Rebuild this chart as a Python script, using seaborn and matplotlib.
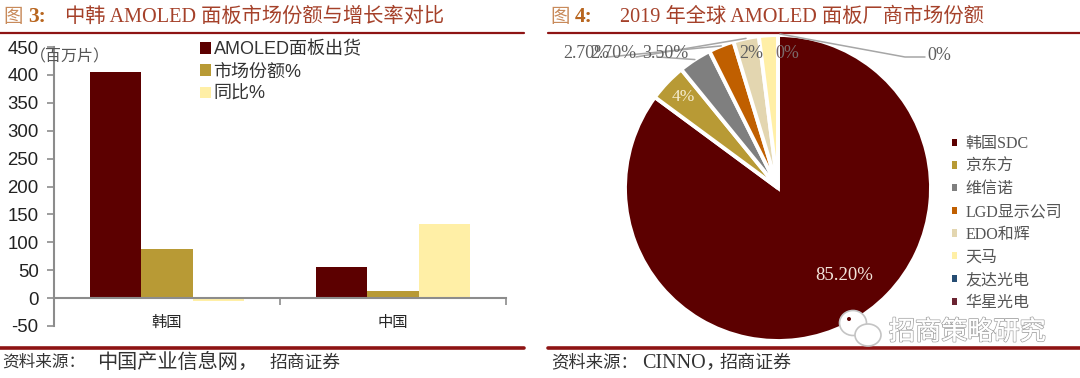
import matplotlib
matplotlib.use("Agg")
import matplotlib.pyplot as plt
import matplotlib.patheffects as pe
from matplotlib.lines import Line2D
from matplotlib.patches import Ellipse, Patch
import numpy as np
import pandas as pd
import seaborn as sns

# ---------- data ----------
regions = ["韩国", "中国"]
series_names = ["AMOLED面板出货", "市场份额%", "同比%"]
shipments = [405, 55]
market_share = [88, 13]
yoy = [-5, 133]
y_ticks = [-50, 0, 50, 100, 150, 200, 250, 300, 350, 400, 450]

makers = ["韩国SDC", "京东方", "维信诺", "LGD显示公司", "EDO和辉", "天马", "友达光电", "华星光电"]
maker_shares = [85.2, 4, 3.5, 2.7, 2.7, 2, 0, 0]
maker_labels = ["85.20%", "4%", "3.50%", "2.70%", "2.70%", "2%", "0%", "0%"]

# ---------- style ----------
W, H = 1080, 378
sns.set_theme(style="white")
SANS = ["Liberation Sans", "Noto Sans CJK SC"]
SERIF = ["Liberation Serif", "Noto Sans CJK SC"]
plt.rcParams["font.family"] = SANS
plt.rcParams["axes.unicode_minus"] = False

bar_colors = ["#5C0000", "#B89A35", "#FFEFA6"]
pie_colors = ["#5C0000", "#B89A35", "#7F7F7F", "#C05F00", "#E3D6B0", "#FFEFA6", "#264D73", "#6B2432"]
RULE = "#8E1414"
GREY = "#8C8C8C"
TXT = "#404040"

fig = plt.figure(figsize=(W / 100, H / 100), dpi=100, facecolor="white")


def fx(px):
    return px / W


def fy(py):
    return 1 - py / H


def axes_px(l, t, r, b):
    return fig.add_axes([fx(l), fy(b), (r - l) / W, (b - t) / H])


def label(px, py, s, **kw):
    kw.setdefault("va", "center")
    return fig.text(fx(px), fy(py), s, **kw)


# ---------- left: bars ----------
ax = axes_px(54, 47, 506, 326)
df = pd.DataFrame({
    "region": regions * 3,
    "series": np.repeat(series_names, 2),
    "value": shipments + market_share + yoy,
})
sns.barplot(data=df, x="region", y="value", hue="series", order=regions,
            hue_order=series_names, palette=bar_colors, width=0.677, gap=0,
            saturation=1, errorbar=None, ax=ax, linewidth=0)
ax.set_xlim(-0.5, 1.5)
ax.set_ylim(-50, 450)
ax.set_xlabel("")
ax.set_ylabel("")
ax.set_yticks(y_ticks)
ax.tick_params(axis="y", direction="out", left=True, length=5, width=1.2, color=GREY,
               labelsize=13.4, labelcolor="#222222", pad=6)
ax.set_xticks([-0.5, 0.5, 1.5])
ax.set_xticklabels([])
ax.set_xticks([0, 1], minor=True)
ax.set_xticklabels(regions, minor=True, fontsize=12.5, color=TXT)
ax.tick_params(axis="x", which="major", direction="out", bottom=True, length=5, width=1.2, color=GREY)
ax.tick_params(axis="x", which="minor", bottom=False, length=0, pad=13)
for s in ["top", "right"]:
    ax.spines[s].set_visible(False)
ax.spines["bottom"].set_position(("data", 0))
for s in ["left", "bottom"]:
    ax.spines[s].set_color(GREY)
    ax.spines[s].set_linewidth(1.5)
ax.set_facecolor("none")
handles, labels_ = ax.get_legend_handles_labels()
leg = ax.legend(handles, labels_, loc="upper left", bbox_to_anchor=((200 - 54) / 452, 1 + 6 / 279),
                borderaxespad=0, frameon=False, fontsize=13, handlelength=0.6, handleheight=0.6,
                handletextpad=0.15, labelspacing=0.29, borderpad=0, labelcolor="#333333")
label(30, 57, "（百万片）", fontsize=11.5, color="#555555")

# ---------- right: pie ----------
cx, cy, R = 778, 188, 153
pax = axes_px(cx - R, cy - R, cx + R, cy + R)
wedges, _ = pax.pie(maker_shares, colors=pie_colors, startangle=90, counterclock=False,
                    radius=1, wedgeprops=dict(edgecolor="white", linewidth=2.8))
pax.set_xlim(-1, 1)
pax.set_ylim(-1, 1)
pax.set_aspect("equal")
for w in wedges:
    w.set_clip_on(False)


def pie_px(wedge, r):
    a = np.deg2rad((wedge.theta1 + wedge.theta2) / 2)
    return r * np.cos(a), r * np.sin(a)


def pie_text(i, px, py, color="#5F5F5F", size=13, leader=None):
    """Label for wedge i at a pixel position; leader = pixel point where the line leaves the text."""
    if leader is not None:
        xy = pie_px(wedges[i], 1.0)
        pax.annotate("", xy=xy, xycoords="data",
                     xytext=(fx(leader[0]), fy(leader[1])), textcoords="figure fraction",
                     arrowprops=dict(arrowstyle="-", color="#A6A6A6", lw=1.1,
                                     shrinkA=0, shrinkB=0), annotation_clip=False)
    label(px, py, maker_labels[i], color=color, fontsize=size, family=SERIF, ha="center", zorder=10)


pie_text(3, 586, 54, leader=(608, 57))
pie_text(4, 613, 54, leader=(636, 57))
pie_text(2, 665, 54, leader=(658, 57))
pie_text(5, 751, 54)
pie_text(6, 787, 54, color="#7A6A6A")
pie_text(1, 683, 97, color="#F5ECCF", size=12.5)
pie_text(0, 844, 275, color="#F3E6DC", size=13.5)
# leader of the last, zero-size slice
fig.add_artist(Line2D([fx(780), fx(845), fx(905), fx(925)], [fy(34), fy(46), fy(57), fy(57)],
                      color="#A6A6A6", lw=1.1, zorder=9))
pie_text(7, 939, 55)

leg_handles = [Patch(facecolor=c, edgecolor="none") for c in pie_colors]
pleg = pax.legend(leg_handles, makers, loc="upper left",
                  bbox_to_anchor=((952 - (cx - R)) / (2 * R), 1 - (136 - (cy - R)) / (2 * R)),
                  frameon=False, prop={"family": SERIF, "size": 11.5}, labelcolor="#555555",
                  handlelength=0.33, handleheight=0.33, handletextpad=0.5, labelspacing=0.42,
                  borderpad=0, borderaxespad=0)

# ---------- page furniture ----------
TITLE = "#A5412A"
for l, r in [(0, 524), (548, 1080)]:
    fig.add_artist(Line2D([fx(l), fx(r)], [fy(33), fy(33)], color=RULE, lw=1.6))
    fig.add_artist(Line2D([fx(l), fx(r)], [fy(347.5), fy(347.5)], color=RULE, lw=2.6))

label(3, 17, "图", fontsize=14, color="#C88A5A", family=SERIF)
label(28, 17, "3:", fontsize=15.5, color="#B8651E", family=SERIF, fontweight="bold")
label(65, 17, "中韩 AMOLED 面板市场份额与增长率对比", fontsize=14.6, color=TITLE, family=SERIF)
label(550, 17, "图", fontsize=14, color="#C88A5A", family=SERIF)
label(575, 17, "4:", fontsize=15.5, color="#B8651E", family=SERIF, fontweight="bold")
label(620, 17, "2019 年全球 AMOLED 面板厂商市场份额", fontsize=14.6, color=TITLE, family=SERIF)

label(2, 363, "资料来源：", fontsize=12, color="#333333", family=SERIF)
label(97, 363, "中国产业信息网，", fontsize=14.5, color="#333333", family=SERIF)
label(270, 363, "招商证券", fontsize=12.8, color="#333333", family=SERIF)
label(551, 363, "资料来源：", fontsize=12.5, color="#333333", family=SERIF)
label(642, 363, "CINNO，", fontsize=14.5, color="#333333", family=SERIF)
label(720, 363, "招商证券", fontsize=13, color="#333333", family=SERIF)

# watermark
for (ex, ey, ew, eh) in [(853, 323, 27, 25), (868, 335, 26, 22)]:
    fig.add_artist(Ellipse((fx(ex), fy(ey)), ew / W, eh / H, facecolor="white",
                           edgecolor="#C4C4C4", lw=1.2, zorder=12))
fig.add_artist(Ellipse((fx(849), fy(319)), 4 / W, 4 / H, facecolor="#5C0000", edgecolor="none", zorder=13))
label(889, 332, "招商策略研究", fontsize=18.8, color="white", zorder=12,
      family="Noto Sans CJK SC",
      path_effects=[pe.withStroke(linewidth=1.3, foreground="#A8A8A8"), pe.Normal()])

fig.savefig("out.png", dpi=100, facecolor="white")
